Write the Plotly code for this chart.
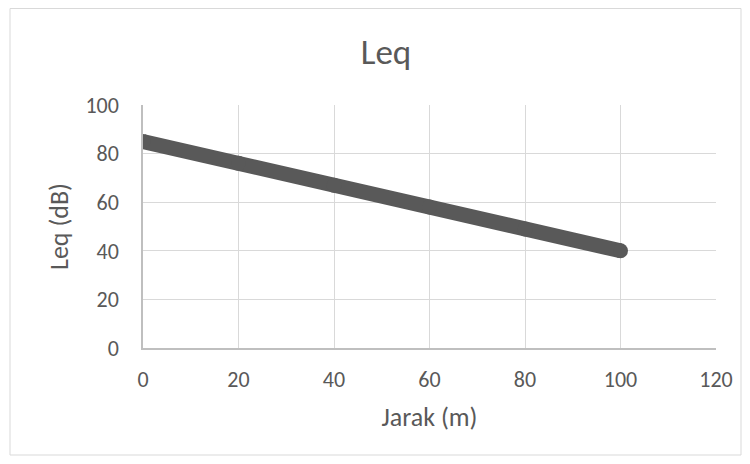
import plotly.graph_objects as go

jarak = [0, 20, 40, 60, 80, 100]
leq = [85, 76, 67, 58, 49, 40]

x_ticks = [0, 20, 40, 60, 80, 100, 120]
y_ticks = [0, 20, 40, 60, 80, 100]

FONT = "Carlito, Lato, 'Open Sans', sans-serif"
TXT = "#595959"

fig = go.Figure()
fig.add_trace(go.Scatter(
    x=jarak, y=leq, mode="lines+markers",
    line=dict(color="#595959", width=15),
    marker=dict(color="#595959", size=15),
    showlegend=False, hoverinfo="x+y",
))

# page offset of the browser (body margin) compensated in the margins
OFF = 8
W, H = 750, 464
L, R, T, B = 143 - OFF, 750 - (716 - OFF), 105 - OFF, 464 - (348 - OFF)
pw, ph = W - L - R, H - T - B

def px(x):
    return (x - OFF - L) / pw

def py(y):
    return (H - B - (y - OFF)) / ph

fig.add_shape(type="rect", xref="paper", yref="paper",
              x0=px(10), x1=px(741), y0=py(455), y1=py(8.5),
              line=dict(color="#d9d9d9", width=1), layer="below")

fig.update_layout(
    width=W, height=H,
    margin=dict(l=L, r=R, t=T, b=B),
    paper_bgcolor="white", plot_bgcolor="white",
    font=dict(family=FONT, color=TXT, size=22),
    title=dict(text="Leq", x=px(386), xanchor="center", xref="paper",
               y=1 - (52 - OFF) / H, yanchor="middle",
               font=dict(size=35, color=TXT, family=FONT)),
    xaxis=dict(
        range=[0, 120], tickvals=x_ticks, ticktext=[str(v) for v in x_ticks],
        showgrid=True, gridcolor="#d9d9d9", gridwidth=1,
        showline=True, linecolor="#bfbfbf", linewidth=1.5,
        zeroline=False, ticks="", ticklabelstandoff=11,
        tickfont=dict(size=22, color=TXT),
        title=dict(text="Jarak (m)", font=dict(size=26, color=TXT), standoff=16),
    ),
    yaxis=dict(
        range=[0, 100], tickvals=y_ticks, ticktext=[str(v) for v in y_ticks],
        showgrid=True, gridcolor="#d9d9d9", gridwidth=1,
        showline=True, linecolor="#bfbfbf", linewidth=1.5,
        zeroline=False, ticks="", ticklabelstandoff=18,
        tickfont=dict(size=22, color=TXT),
        title=dict(text="Leq (dB)", font=dict(size=26, color=TXT), standoff=9),
    ),
)

fig.write_html("out.html")
